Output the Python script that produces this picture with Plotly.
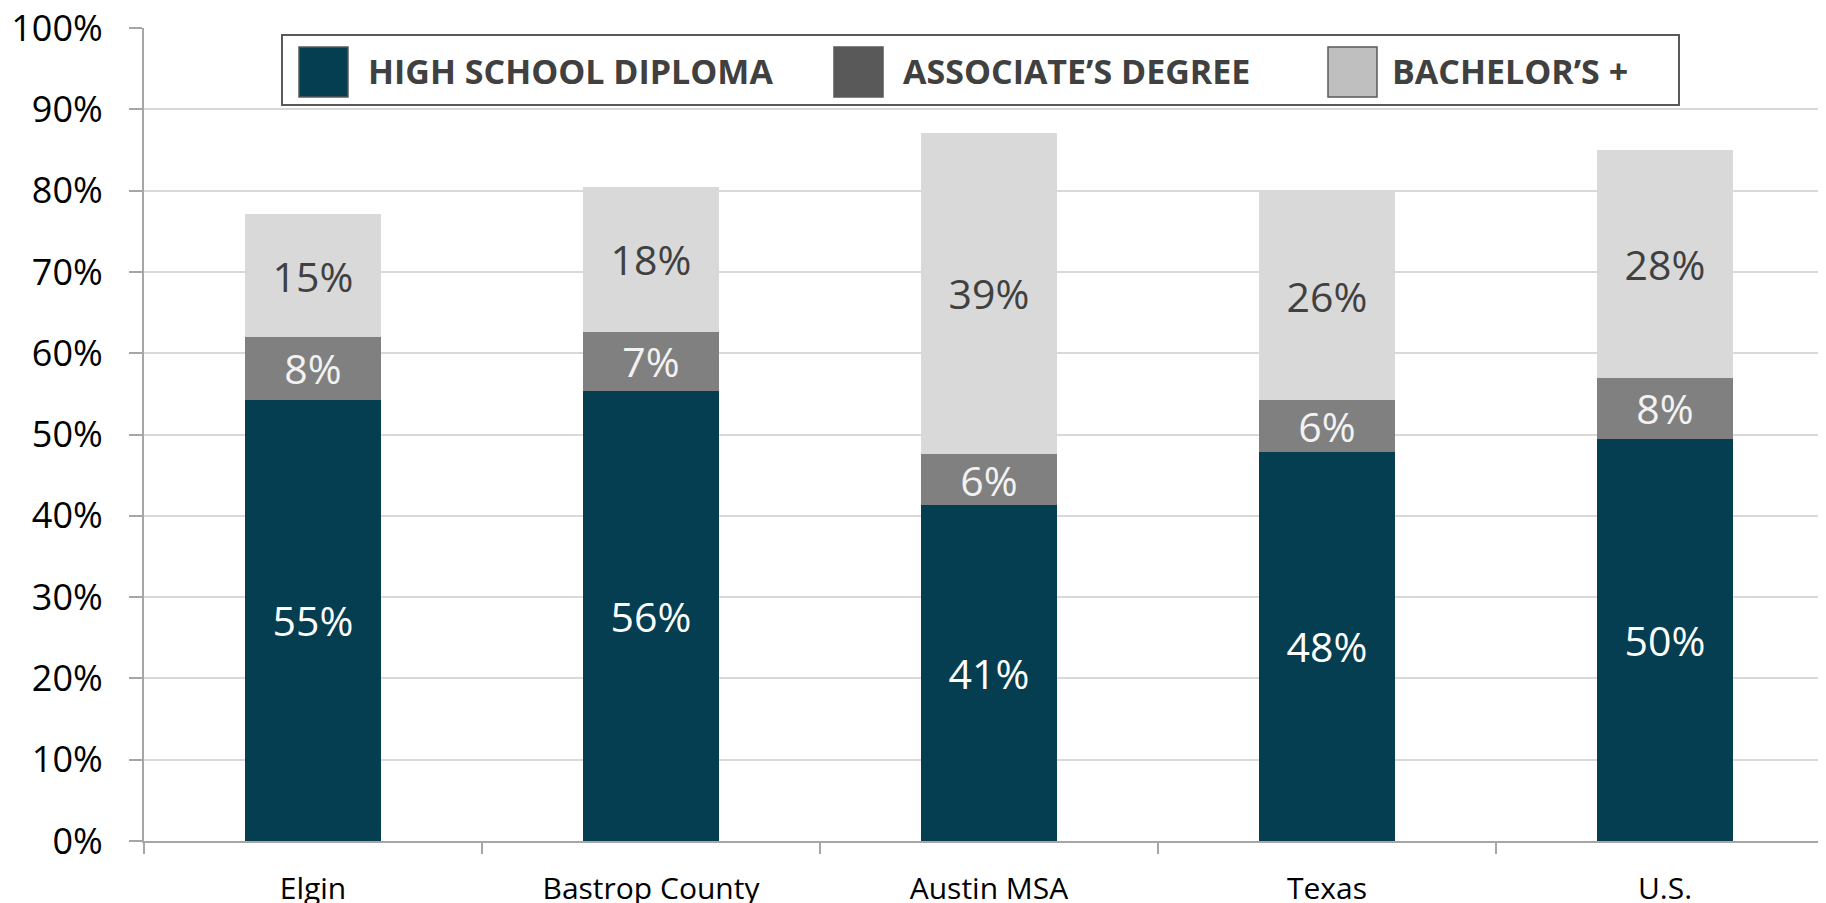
import plotly.graph_objects as go

categories = ["Elgin", "Bastrop County", "Austin MSA", "Texas", "U.S."]
high_school = [0.543, 0.554, 0.413, 0.479, 0.494]
associates = [0.077, 0.072, 0.063, 0.063, 0.076]
bachelors = [0.151, 0.179, 0.395, 0.257, 0.280]
hs_labels = ["55%", "56%", "41%", "48%", "50%"]
as_labels = ["8%", "7%", "6%", "6%", "8%"]
ba_labels = ["15%", "18%", "39%", "26%", "28%"]
series_names = ["HIGH SCHOOL DIPLOMA", "ASSOCIATE\u2019S DEGREE", "BACHELOR\u2019S +"]

FONT = "Open Sans"
W, H = 1826, 903
OFF = 8  # page body margin offset
L, R, T, B = 136, 0, 20, 70
PW, PH = W - L - R, H - T - B


def px(x):
    # screen x -> paper
    return (x - OFF - L) / PW


def py(y):
    # screen y -> paper
    return (H - B - (y - OFF)) / PH


fig = go.Figure()
bar_specs = [
    (high_school, hs_labels, "#053D51", "#FFFFFF"),
    (associates, as_labels, "#808080", "#F2F2F2"),
    (bachelors, ba_labels, "#D9D9D9", "#404040"),
]
for name, (vals, labels, color, tcolor) in zip(series_names, bar_specs):
    fig.add_trace(go.Bar(
        x=categories, y=vals, name=name, text=labels,
        textposition="inside", insidetextanchor="middle", textangle=0,
        constraintext="none",
        textfont=dict(family=FONT, size=41, color=tcolor),
        marker=dict(color=color, line=dict(width=0)),
        showlegend=False, hoverinfo="skip",
    ))

# custom legend (large swatches like the original)
shapes = []
annotations = []
shapes.append(dict(type="rect", xref="paper", yref="paper",
                   x0=px(282), x1=px(1679), y0=py(105), y1=py(35),
                   line=dict(color="#595959", width=2), fillcolor="#FFFFFF", layer="above"))
legend_swatch = ["#053D51", "#595959", "#BFBFBF"]
sw_x = [299, 834, 1328]
tx_x = [366, 901, 1390]
for name, c, sx, tx in zip(series_names, legend_swatch, sw_x, tx_x):
    shapes.append(dict(type="rect", xref="paper", yref="paper",
                       x0=px(sx), x1=px(sx + 49), y0=py(97), y1=py(47),
                       line=dict(color="#595959", width=1.5), fillcolor=c, layer="above"))
    annotations.append(dict(xref="paper", yref="paper", x=px(tx), y=py(71),
                            xanchor="left", yanchor="middle", showarrow=False,
                            text="<b>" + name + "</b>",
                            font=dict(family=FONT, size=34, color="#404040")))

fig.update_layout(
    width=W, height=H,
    margin=dict(l=L, r=R, t=T, b=B, autoexpand=False),
    barmode="stack", bargap=0.6,
    plot_bgcolor="#FFFFFF", paper_bgcolor="#FFFFFF",
    font=dict(family=FONT, color="#000000"),
    shapes=shapes, annotations=annotations,
    xaxis=dict(
        showline=True, linecolor="#A6A6A6", linewidth=2,
        ticks="outside", tickson="boundaries", ticklen=11, tickcolor="#A6A6A6", tickwidth=2,
        tickfont=dict(family=FONT, size=30, color="#000000"),
        ticklabelstandoff=20,
        showgrid=False,
    ),
    yaxis=dict(
        range=[0, 1], dtick=0.1, tickformat=".0%",
        showline=True, linecolor="#A6A6A6", linewidth=2,
        ticks="outside", ticklen=13, tickcolor="#A6A6A6", tickwidth=2,
        tickfont=dict(family=FONT, size=36, color="#000000"),
        ticklabelstandoff=19, ticklabeloverflow="allow",
        showgrid=True, gridcolor="#D9D9D9", gridwidth=2,
        zeroline=False,
    ),
)

fig.write_html("out.html")
